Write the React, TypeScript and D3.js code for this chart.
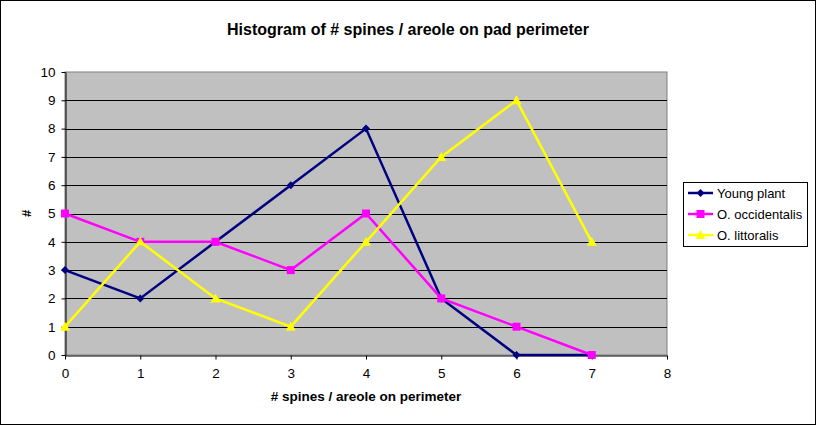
import * as d3 from "d3";
import { useEffect, useRef } from "react";

const spines = [0, 1, 2, 3, 4, 5, 6, 7];
const youngPlant = [3, 2, 4, 6, 8, 2, 0, 0];
const occidentalis = [5, 4, 4, 3, 5, 2, 1, 0];
const littoralis = [1, 4, 2, 1, 4, 7, 9, 4];
const xTicks = [0, 1, 2, 3, 4, 5, 6, 7, 8];
const yTicks = [0, 1, 2, 3, 4, 5, 6, 7, 8, 9, 10];

const series = [
  { name: "Young plant", values: youngPlant, color: "#000080", marker: "diamond" },
  { name: "O. occidentalis", values: occidentalis, color: "#ff00ff", marker: "square" },
  { name: "O. littoralis", values: littoralis, color: "#ffff00", marker: "triangle" },
];

const FONT = "'Liberation Sans', Arial, sans-serif";

export default function App() {
  const ref = useRef<SVGSVGElement>(null);

  useEffect(() => {
    if (!ref.current) return;
    const el = ref.current;
    d3.select(el).selectAll("*").remove();

    const W = 816;
    const H = 425;
    const plot = { left: 65, right: 667, top: 72, bottom: 355 };

    const svg = d3.select(el);

    // outer frame
    svg.append("rect").attr("x", 0.5).attr("y", 0.5).attr("width", W - 1).attr("height", H - 1)
      .attr("fill", "#fff").attr("stroke", "#000");

    const x = d3.scaleLinear().domain([0, 8]).range([plot.left, plot.right]);
    const y = d3.scaleLinear().domain([0, 10]).range([plot.bottom, plot.top]);

    // plot background
    svg.append("rect")
      .attr("x", plot.left).attr("y", plot.top)
      .attr("width", plot.right - plot.left).attr("height", plot.bottom - plot.top)
      .attr("fill", "#c0c0c0").attr("stroke", "#808080");

    // grid lines
    svg.append("g")
      .selectAll("line")
      .data(yTicks.slice(1, -1))
      .join("line")
      .attr("x1", plot.left).attr("x2", plot.right)
      .attr("y1", d => Math.round(y(d)) + 0.5).attr("y2", d => Math.round(y(d)) + 0.5)
      .attr("stroke", "#000");

    // Y axis
    svg.append("g")
      .attr("transform", `translate(${plot.left + 0.5},0)`)
      .call(d3.axisLeft(y).tickValues(yTicks).tickSize(4).tickPadding(6).tickSizeOuter(0))
      .call(gg => gg.select(".domain").attr("stroke", "#000"))
      .call(gg => gg.selectAll("line").attr("stroke", "#000"))
      .call(gg => gg.selectAll("text").attr("fill", "#000").attr("font-size", 13.5).attr("font-family", FONT));

    // X axis
    svg.append("g")
      .attr("transform", `translate(0,${plot.bottom + 0.5})`)
      .call(d3.axisBottom(x).tickValues(xTicks).tickSize(4).tickPadding(9).tickSizeOuter(0))
      .call(gg => gg.select(".domain").attr("stroke", "#000"))
      .call(gg => gg.selectAll("line").attr("stroke", "#000"))
      .call(gg => gg.selectAll("text").attr("fill", "#000").attr("font-size", 13.5).attr("font-family", FONT));

    const line = d3.line<number>().x((_, i) => x(spines[i])).y(d => y(d));

    const drawMarker = (g: d3.Selection<SVGGElement, unknown, null, undefined>, kind: string, cx: number, cy: number, color: string) => {
      if (kind === "diamond") {
        g.append("path").attr("d", `M${cx},${cy - 4}L${cx + 4},${cy}L${cx},${cy + 4}L${cx - 4},${cy}Z`).attr("fill", color);
      } else if (kind === "square") {
        g.append("rect").attr("x", cx - 4).attr("y", cy - 4).attr("width", 8).attr("height", 8).attr("fill", color);
      } else {
        g.append("path").attr("d", `M${cx},${cy - 5}L${cx + 5},${cy + 4}L${cx - 5},${cy + 4}Z`).attr("fill", color);
      }
    };

    series.forEach(s => {
      const g = svg.append("g");
      g.append("path")
        .datum(s.values)
        .attr("d", line)
        .attr("fill", "none")
        .attr("stroke", s.color)
        .attr("stroke-width", 2.5);
      s.values.forEach((v, i) => drawMarker(g, s.marker, x(spines[i]), y(v), s.color));
    });

    // title
    svg.append("text")
      .attr("x", 408).attr("y", 35)
      .attr("text-anchor", "middle")
      .attr("font-family", FONT).attr("font-weight", 700).attr("font-size", 16)
      .text("Histogram of # spines / areole on pad perimeter");

    // axis titles
    svg.append("text")
      .attr("x", (plot.left + plot.right) / 2).attr("y", 401)
      .attr("text-anchor", "middle")
      .attr("font-family", FONT).attr("font-weight", 700).attr("font-size", 13.5)
      .text("# spines / areole on perimeter");

    svg.append("text")
      .attr("transform", `translate(31,${(plot.top + plot.bottom) / 2}) rotate(-90)`)
      .attr("text-anchor", "middle")
      .attr("font-family", FONT).attr("font-weight", 700).attr("font-size", 13)
      .text("#");

    // legend
    const lg = svg.append("g");
    lg.append("rect").attr("x", 683.5).attr("y", 182.5).attr("width", 124).attr("height", 64)
      .attr("fill", "#fff").attr("stroke", "#000");
    series.forEach((s, i) => {
      const cy = 193 + i * 21;
      const row = lg.append("g");
      row.append("line").attr("x1", 688).attr("x2", 713).attr("y1", cy).attr("y2", cy)
        .attr("stroke", s.color).attr("stroke-width", 2.5);
      drawMarker(row, s.marker, 700.5, cy, s.color);
      row.append("text").attr("x", 717).attr("y", cy + 4.5)
        .attr("font-family", FONT).attr("font-size", 13).attr("fill", "#000")
        .text(s.name);
    });
  }, []);

  return (
    <div>
      <style>{`body{margin:0}`}</style>
      <svg ref={ref} width={816} height={425} style={{ display: "block" }} />
    </div>
  );
}
